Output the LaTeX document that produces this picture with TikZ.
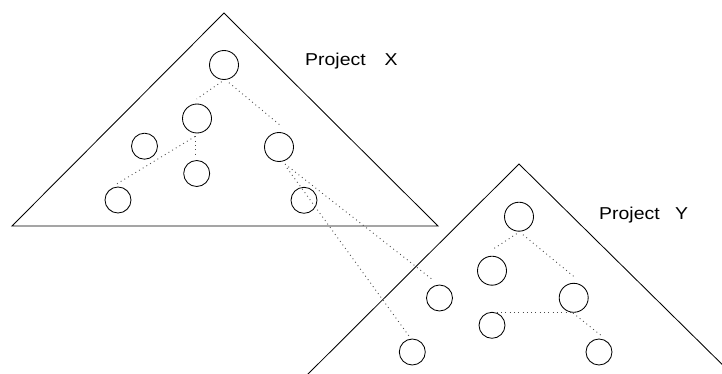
\documentclass[tikz,border=0pt]{standalone}
\usepackage{fontspec}
\setmainfont{Liberation Sans}
\newfontfamily\labelfont[FakeStretch=1.13]{Liberation Sans}
\begin{document}
\begin{tikzpicture}[x=1pt,y=-1pt,
  edge/.style={draw=black,line width=0.85pt},
  big/.style={circle,draw=black,line width=0.85pt,minimum size=29pt,inner sep=0pt},
  small/.style={circle,draw=black,line width=0.85pt,minimum size=26pt,inner sep=0pt},
  link/.style={draw=black!70,line width=0.9pt,dash pattern=on 0.9pt off 3.4pt},
  lbl/.style={anchor=base west,inner sep=0pt,font=\labelfont\fontsize{17.2pt}{20pt}\selectfont}]
\useasboundingbox (0,0) rectangle (722,374);
\clip (0,0) rectangle (722,374);
% triangles
\draw[edge,line join=miter] (12,226) -- (224,13) -- (438,226) -- cycle;
\draw[edge] (298,384) -- (519,164) -- (742,384);
% labels
\node[lbl] (lx) at (305,65.3) {Project\hspace{19pt}X};
\node[lbl] (ly) at (599,219) {Project\hspace{15.5pt}Y};
% tree X
\node[big] (rx) at (224,65) {};
\node[big] (a) at (197,118.5) {};
\node[small] (b) at (144.5,146.2) {};
\node[small] (c) at (196.7,173.5) {};
\node[big] (d) at (279,147) {};
\node[small] (e) at (118,200) {};
\node[small] (f) at (304,200.3) {};
% tree Y
\node[big] (ry) at (519,216.7) {};
\node[big] (g) at (492,270.7) {};
\node[big] (h) at (573.7,297.8) {};
\node[small] (p) at (439.5,298) {};
\node[small] (i) at (492,325.3) {};
\node[small] (q) at (412.3,352) {};
\node[small] (r) at (599,352) {};
% connectors
\draw[link] ([shift={(-2.3,16.7)}]rx.center) -- ([shift={(-0.3,-19.5)}]a.center);
\draw[link] ([shift={(5,17.7)}]rx.center) -- ([shift={(0.3,-22.5)}]d.center);
\draw[link] ([shift={(-2,18)}]a.center) -- ([shift={(-3,-15)}]e.center);
\draw[link] ([shift={(-2,18)}]a.center) -- ([shift={(-1.7,-17)}]c.center);
\draw[link] ([shift={(6,17)}]d.center) -- ([shift={(-6.5,-18)}]p.center);
\draw[link] ([shift={(8,21)}]d.center) -- ([shift={(-3.3,-16)}]q.center);
\draw[link] ([shift={(-2.3,17)}]ry.center) -- ([shift={(-0.3,-20.7)}]g.center);
\draw[link] ([shift={(4,18)}]ry.center) -- ([shift={(1.3,-20.3)}]h.center);
\draw[link] ([shift={(4.7,-13)}]i.center) -- ([shift={(-2,14.5)}]h.center);
\draw[link] ([shift={(-0.7,15.2)}]h.center) -- ([shift={(4,-15)}]r.center);
\end{tikzpicture}
\end{document}
